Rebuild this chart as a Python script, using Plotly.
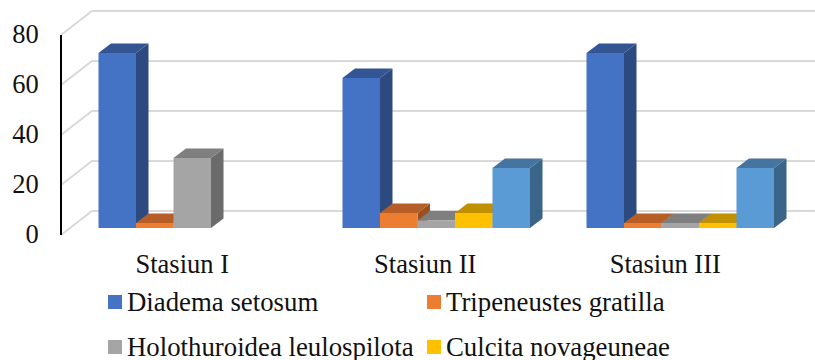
import plotly.graph_objects as go

categories = ["Stasiun I", "Stasiun II", "Stasiun III"]
series_names = ["Diadema setosum", "Tripeneustes gratilla", "Holothuroidea leulospilota", "Culcita novageuneae", ""]
diadema = [70, 60, 70]
tripneustes = [2, 6, 2]
holothuroidea = [28, 3, 2]
culcita = [0, 6, 2]
fifth = [0, 24, 24]
y_ticks = [0, 20, 40, 60, 80]

series_values = [diadema, tripneustes, holothuroidea, culcita, fifth]
front = ["#4472C4", "#ED7D31", "#A5A5A5", "#FFC000", "#5B9BD5"]
top = ["#335593", "#B65E25", "#7F7F7F", "#C09000", "#44749F"]
side = ["#2C4A7F", "#9B5020", "#6B6B6B", "#A67C00", "#3B6489"]

W, H = 815, 360
PLOT_BOTTOM = 236      # px
GROUP_PX = 244.0       # px per category
C0_PX = 192.25         # px of first group's centre
Y0_PX = 228.0          # px of value 0 at bar front
AXIS_ZERO_PX = 235.0   # px of value 0 on the front-left axis
PX_PER_UNIT = 2.5
BAR_W = 37.5 / GROUP_PX
DX = 12.5 / GROUP_PX
DY = 9.5 / PX_PER_UNIT
FLOOR_DX = 31 / GROUP_PX
FLOOR_DY = 24 / PX_PER_UNIT
AXIS_X = (61 - C0_PX) / GROUP_PX
FRONT_ZERO = -7 / PX_PER_UNIT
FONT = "Liberation Serif"
SIZE = 26.5
LEGEND_SIZE = 26.8
TICK_SIZE = 26.5

x_range = [-C0_PX / GROUP_PX, (W - C0_PX) / GROUP_PX]
y_range = [(Y0_PX - PLOT_BOTTOM) / PX_PER_UNIT, Y0_PX / PX_PER_UNIT]
y2_range = [(AXIS_ZERO_PX - PLOT_BOTTOM) / PX_PER_UNIT, AXIS_ZERO_PX / PX_PER_UNIT]

fig = go.Figure()

# gridlines: side wall and back wall, through the data axes
for v in y_ticks:
    y_f = v + FRONT_ZERO
    y_b = y_f + FLOOR_DY
    fig.add_shape(type="path", xref="x", yref="y", layer="below",
                  path=f"M {AXIS_X} {y_f} L {AXIS_X + FLOOR_DX} {y_b} L {x_range[1]} {y_b}",
                  line=dict(color="#D9D9D9", width=2))

# bars, painted left to right
for s, vals in enumerate(series_values):
    left = [i + (s - 2.5) * BAR_W for i in range(len(categories))]
    for l, v in zip(left, vals):
        if v <= 0:
            continue
        r = l + BAR_W
        fig.add_trace(go.Scatter(
            x=[r, r + DX, r + DX, r, r], y=[0, DY, v + DY, v, 0],
            fill="toself", fillcolor=side[s], mode="none",
            hoverinfo="skip", showlegend=False, zorder=2 * s + 1))
        fig.add_trace(go.Scatter(
            x=[l, r, r + DX, l + DX, l], y=[v, v, v + DY, v + DY, v],
            fill="toself", fillcolor=top[s], mode="none",
            hoverinfo="skip", showlegend=False, zorder=2 * s + 1))
    fig.add_trace(go.Bar(
        x=list(range(len(categories))), y=vals, name=series_names[s],
        width=BAR_W, offset=(s - 2.5) * BAR_W,
        marker=dict(color=front[s], line=dict(width=0)),
        showlegend=False, zorder=2 * s + 2))

# value axis line
fig.add_trace(go.Scatter(x=[AXIS_X, AXIS_X], y=[y_ticks[0], y_ticks[-1]], yaxis="y2", mode="lines",
                         line=dict(color="black", width=2), showlegend=False, hoverinfo="skip"))

# manual legend (fifth entry falls outside the picture in the original)
legend_rows = [(127, 302), (446, 302), (127, 347), (446, 347)]
for s, (px, py) in enumerate(legend_rows):
    fig.add_shape(type="rect", xref="paper", yref="paper",
                  x0=(px - 19) / W, x1=(px - 5) / W,
                  y0=(PLOT_BOTTOM - py + 7) / PLOT_BOTTOM, y1=(PLOT_BOTTOM - py - 7) / PLOT_BOTTOM,
                  fillcolor=front[s], line=dict(width=0))
    fig.add_annotation(text=series_names[s], xref="paper", yref="paper", showarrow=False,
                       x=px / W, y=(PLOT_BOTTOM - py) / PLOT_BOTTOM,
                       xanchor="left", yanchor="middle", xshift=-2,
                       font=dict(family=FONT, size=LEGEND_SIZE, color="#111111"))

label_shift = [-10, -11, -15]
fig.update_layout(
    template="none",
    width=W, height=H, margin=dict(l=0, r=0, t=0, b=H - PLOT_BOTTOM),
    paper_bgcolor="white", plot_bgcolor="rgba(0,0,0,0)", barmode="overlay",
    showlegend=False,
    xaxis=dict(range=x_range, showgrid=False, zeroline=False, showline=False, automargin=False,
               tickmode="array",
               tickvals=[i + label_shift[i] / GROUP_PX for i in range(3)],
               ticktext=categories, ticks="outside", ticklen=4, tickcolor="rgba(0,0,0,0)",
               tickfont=dict(family=FONT, size=SIZE, color="#111111")),
    yaxis=dict(range=y_range, visible=False, automargin=False),
    yaxis2=dict(range=y2_range, anchor="free", position=61 / W, automargin=False, overlaying="y",
                tickmode="array", tickvals=[v + 0.4 for v in y_ticks], ticktext=[str(v) for v in y_ticks],
                showgrid=False, zeroline=False, showline=False, ticks="outside", ticklen=17,
                tickcolor="rgba(0,0,0,0)",
                tickfont=dict(family=FONT, size=TICK_SIZE, color="#111111")),
)
fig.write_html("out.html", post_script="document.body.style.margin='0';", config={"displayModeBar": False})
